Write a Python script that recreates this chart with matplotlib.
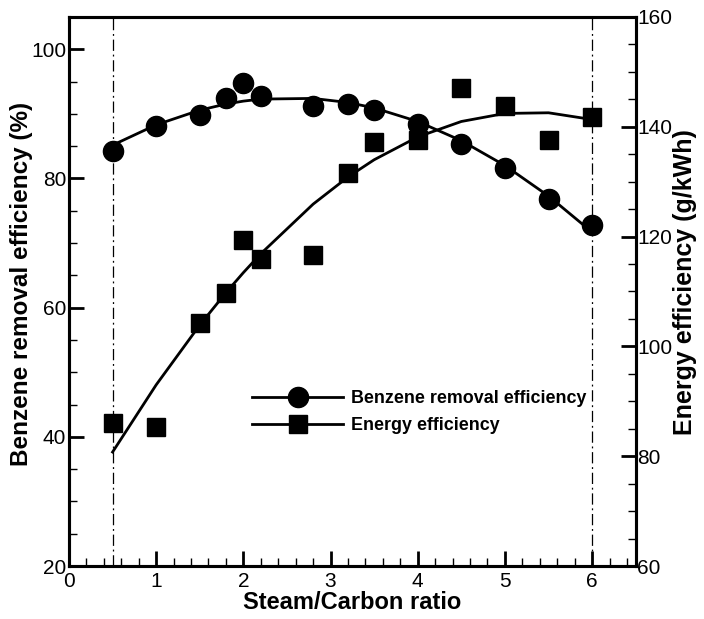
import numpy as np
import matplotlib
matplotlib.use("Agg")
import matplotlib.pyplot as plt
from matplotlib.ticker import MultipleLocator

plt.rcParams['font.family'] = ['Liberation Sans', 'DejaVu Sans']

# steam/carbon ratio
ratio = [0.5, 1.0, 1.5, 1.8, 2.0, 2.2, 2.8, 3.2, 3.5, 4.0, 4.5, 5.0, 5.5, 6.0]
# benzene removal efficiency (%)
benzene = [84.2, 88.1, 89.8, 92.5, 94.8, 92.7, 91.2, 91.5, 90.6, 88.5, 85.4, 81.6, 76.8, 72.8]
# energy efficiency (g/kWh)
energy = [86.0, 85.4, 104.2, 109.8, 119.4, 116.0, 116.6, 131.5, 137.3, 137.6, 147.0, 143.8, 137.6, 141.7]


def quad_fit(x, y):
    # quadratic trend line evaluated at the measured ratios
    c = np.polyfit(x, y, 2)
    return np.polyval(c, x)


fig = plt.figure(figsize=(7.04, 6.19), dpi=100)
ax = fig.add_axes([0.098, 0.0856, 0.805, 0.887])
ax2 = ax.twinx()

x = np.array(ratio)
ax.plot(x, quad_fit(x, benzene), color='black', lw=2, zorder=2)
ax.plot(x, benzene, 'o', color='black', ms=14.5, zorder=3)
ax2.plot(x, quad_fit(x, energy), color='black', lw=2, zorder=2)
ax2.plot(x, energy, 's', color='black', ms=13.5, zorder=3)

# legend proxies
ax.plot([], [], '-o', color='black', lw=2, ms=14.5, label='Benzene removal efficiency')
ax.plot([], [], '-s', color='black', lw=2, ms=13.5, label='Energy efficiency')
leg = ax.legend(loc='center left', bbox_to_anchor=(0.3228, 0.2805), frameon=False,
                borderpad=0, borderaxespad=0,
                handlelength=5.1, handletextpad=0.45, labelspacing=0.55,
                prop={'weight': 'bold', 'size': 12.9})

for xv in (0.5, 6.0):
    ax.axvline(xv, color='black', lw=0.9, ls=(0, (9, 3, 1.5, 3)), zorder=1)

ax.set_xlim(0, 6.5)
ax.set_ylim(20, 105)
ax2.set_ylim(60, 160)

ax.xaxis.set_major_locator(MultipleLocator(1))
ax.xaxis.set_minor_locator(MultipleLocator(0.2))
ax.yaxis.set_major_locator(MultipleLocator(20))
ax.yaxis.set_minor_locator(MultipleLocator(5))
ax2.yaxis.set_major_locator(MultipleLocator(20))
ax2.yaxis.set_minor_locator(MultipleLocator(5))

for a in (ax, ax2):
    a.tick_params(which='major', direction='in', length=11, width=2, labelsize=15, pad=2)
    a.tick_params(which='minor', direction='in', length=6, width=1)
    for s in a.spines.values():
        s.set_linewidth(2.2)
ax.tick_params(axis='y', which='both', right=False)
ax.tick_params(axis='x', pad=4)
ax2.tick_params(axis='y', pad=1)

ax.set_xlabel('Steam/Carbon ratio', fontsize=17, fontweight='bold', labelpad=0)
ax.set_ylabel('Benzene removal efficiency (%)', fontsize=17.5, fontweight='bold')
ax.yaxis.set_label_coords(-0.0635, 0.513)
ax2.set_ylabel('Energy efficiency (g/kWh)', fontsize=18, fontweight='bold', rotation=90)
ax2.yaxis.set_label_coords(1.066, 0.518)

fig.savefig('out.png', dpi=100)
